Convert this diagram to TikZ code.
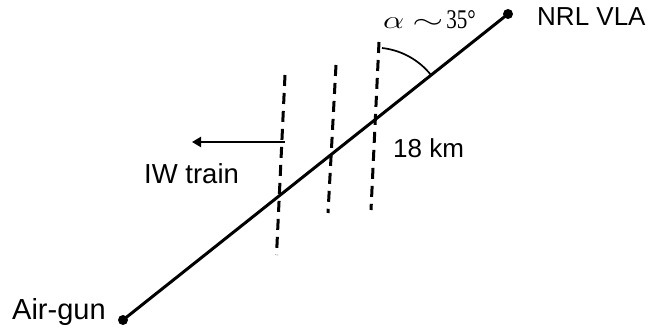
\documentclass[tikz,border=0pt]{standalone}
\usepackage{fontspec}
\setmainfont{Liberation Sans}
\newfontfamily\serifdigits{Liberation Serif}
\usepackage{graphicx}
\usetikzlibrary{arrows.meta}
\begin{document}
\begin{tikzpicture}[x=1pt,y=1pt,
  mainline/.style={line width=3pt},
  wavefront/.style={line width=3pt, dash pattern=on 11pt off 7pt},
  lbl/.style={inner sep=0pt, anchor=base west, text=black},
  endpoint/.style={circle, fill=black, inner sep=0pt, minimum size=10pt},
  anglearc/.style={line width=1.7pt},
  trainarrow/.style={line width=2.7pt, -{Triangle[length=9pt,width=10pt]}}]
\useasboundingbox (0,0) rectangle (656,331);
% end points
\node[endpoint] (gun) at (123,11) {};
\node[endpoint] (vla) at (508,317) {};
\draw[mainline] (gun.center) -- (vla.center);
% wave fronts
\coordinate (w1t) at (285,256); \coordinate (w1b) at (276.5,76);
\coordinate (w2t) at (336,266); \coordinate (w2b) at (328,118);
\coordinate (w3t) at (379,289); \coordinate (w3b) at (371,121);
\draw[wavefront] (w1t) -- (w1b);
\draw[wavefront] (w2t) -- (w2b);
\draw[wavefront] (w3t) -- (w3b);
% propagation arrow
\coordinate (arrS) at (285,189);
\coordinate (arrE) at (192,189);
\draw[trainarrow] (arrS) -- (arrE);
% angle arc
\coordinate (arcS) at (382,283);
\draw[anglearc] (arcS) arc[start angle=83.7, end angle=38.5, radius=72.9];
% labels
\node[lbl, font=\fontsize{26}{30}\selectfont] (vlalbl) at (537,305) {NRL VLA};
\node[lbl, font=\fontsize{26}{30}\selectfont] (kmlbl) at (393,173) {18 km};
\node[lbl, font=\fontsize{27.5}{32}\selectfont] (iwlbl) at (144,147) {IW train};
\node[lbl, font=\fontsize{29}{34}\selectfont] (gunlbl) at (12,11) {Air-gun};
\node[lbl, font=\fontsize{27}{30}\selectfont] (alpha) at (383,302)
  {\scalebox{1.35}[1]{$\alpha$}\hspace{8pt}\scalebox{1.6}[1]{$\sim$}\hspace{3pt}{\serifdigits\scalebox{0.78}[1]{35°}}};
\end{tikzpicture}
\end{document}
